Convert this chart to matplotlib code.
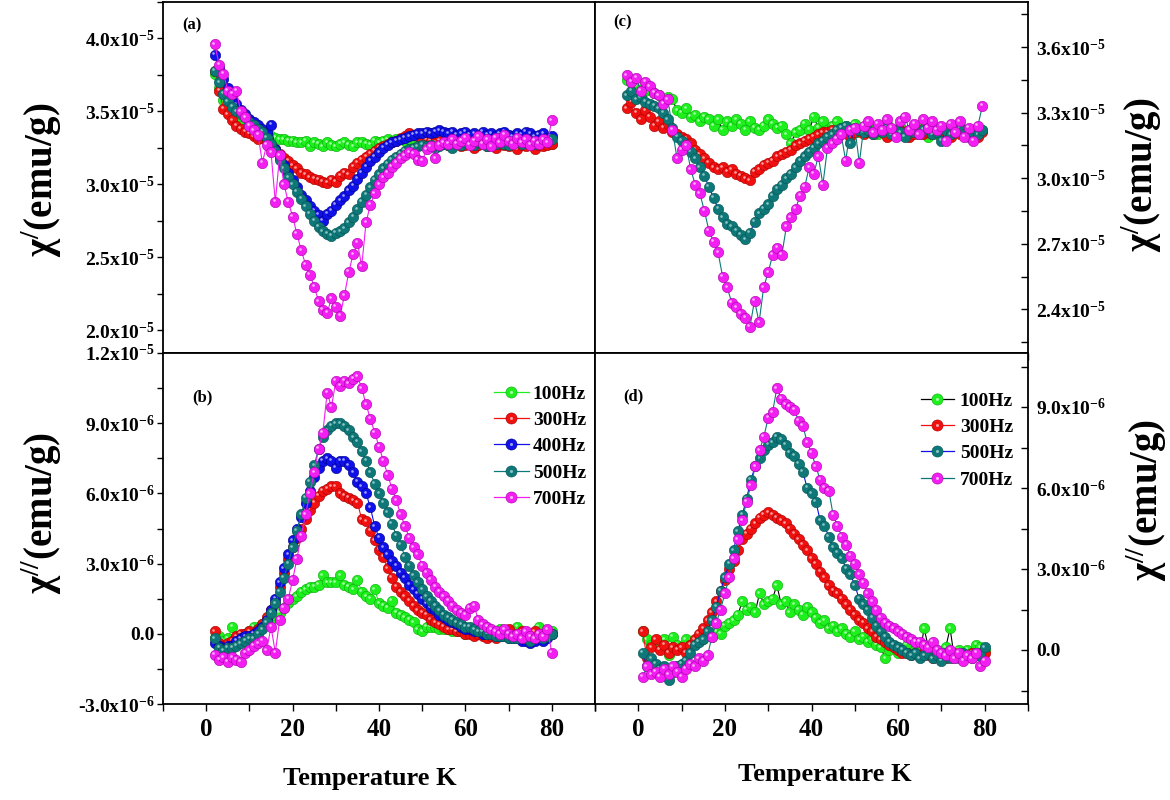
import matplotlib
matplotlib.use('Agg')
import matplotlib.pyplot as plt
import numpy as np
from matplotlib.ticker import MultipleLocator, FuncFormatter
from matplotlib.transforms import offset_copy
from matplotlib.legend_handler import HandlerTuple
from matplotlib.lines import Line2D

plt.rcParams['font.family'] = 'serif'
plt.rcParams['font.serif'] = ['Liberation Serif', 'DejaVu Serif']
plt.rcParams['font.weight'] = 'bold'
plt.rcParams['mathtext.fontset'] = 'custom'
plt.rcParams['mathtext.rm'] = 'Liberation Serif:bold'
plt.rcParams['mathtext.it'] = 'Liberation Serif:italic:bold'
plt.rcParams['mathtext.bf'] = 'Liberation Serif:bold'
plt.rcParams['mathtext.default'] = 'rm'

# temperatures (K)
TEMP_AB = [2, 3, 4, 5, 6, 7, 8, 9, 10, 11,
           12, 13, 14, 15, 16, 17, 18, 19, 20, 21,
           22, 23, 24, 25, 26, 27, 28, 29, 30, 31,
           32, 33, 34, 35, 36, 37, 38, 39, 40, 41,
           42, 43, 44, 45, 46, 47, 48, 49, 50, 51,
           52, 53, 54, 55, 56, 57, 58, 59, 60, 61,
           62, 63, 64, 65, 66, 67, 68, 69, 70, 71,
           72, 73, 74, 75, 76, 77, 78, 79, 80]
TEMP_C = TEMP_AB
TEMP_D = [1, 2, 3, 4, 5, 6, 7, 8, 9, 10,
          11, 12, 13, 14, 15, 16, 17, 18, 19, 20,
          21, 22, 23, 24, 25, 26, 27, 28, 29, 30,
          31, 32, 33, 34, 35, 36, 37, 38, 39, 40,
          41, 42, 43, 44, 45, 46, 47, 48, 49, 50,
          51, 52, 53, 54, 55, 56, 57, 58, 59, 60,
          61, 62, 63, 64, 65, 66, 67, 68, 69, 70,
          71, 72, 73, 74, 75, 76, 77, 78, 79, 80]

# (a) chi' in 1e-5 emu/g
A_100 = [3.76, 3.66, 3.58, 3.52, 3.47, 3.43, 3.40, 3.38, 3.37, 3.36,
         3.35, 3.34, 3.33, 3.33, 3.32, 3.31, 3.31, 3.30, 3.30, 3.29,
         3.29, 3.30, 3.26, 3.29, 3.28, 3.26, 3.29, 3.27, 3.26, 3.28,
         3.29, 3.27, 3.26, 3.29, 3.29, 3.28, 3.27, 3.30, 3.29, 3.30,
         3.31, 3.30, 3.31, 3.31, 3.30, 3.31, 3.31, 3.32, 3.31, 3.30,
         3.31, 3.30, 3.29, 3.31, 3.30, 3.30, 3.29, 3.31, 3.30, 3.29,
         3.30, 3.31, 3.29, 3.30, 3.30, 3.28, 3.30, 3.29, 3.30, 3.31,
         3.29, 3.30, 3.30, 3.29, 3.31, 3.30, 3.29, 3.30, 3.28]
A_300 = [3.78, 3.64, 3.52, 3.48, 3.44, 3.40, 3.38, 3.36, 3.35, 3.33,
         3.31, 3.32, 3.30, 3.27, 3.24, 3.21, 3.18, 3.16, 3.13, 3.11,
         3.08, 3.07, 3.05, 3.04, 3.03, 3.02, 3.01, 3.03, 3.02, 3.06,
         3.08, 3.07, 3.12, 3.15, 3.17, 3.19, 3.21, 3.23, 3.25, 3.26,
         3.28, 3.29, 3.30, 3.32, 3.33, 3.35, 3.34, 3.33, 3.32, 3.31,
         3.30, 3.29, 3.30, 3.28, 3.27, 3.29, 3.28, 3.26, 3.27, 3.28,
         3.25, 3.27, 3.28, 3.26, 3.27, 3.25, 3.28, 3.27, 3.26, 3.28,
         3.24, 3.27, 3.26, 3.28, 3.24, 3.27, 3.26, 3.27, 3.28]
A_400 = [3.89, 3.80, 3.72, 3.66, 3.60, 3.55, 3.51, 3.48, 3.45, 3.43,
         3.41, 3.38, 3.35, 3.41, 3.24, 3.18, 3.13, 3.08, 3.03, 2.98,
         2.93, 2.89, 2.85, 2.82, 2.79, 2.75, 2.80, 2.82, 2.86, 2.89,
         2.92, 2.96, 2.99, 3.04, 3.08, 3.12, 3.16, 3.19, 3.22, 3.25,
         3.27, 3.29, 3.30, 3.31, 3.32, 3.33, 3.34, 3.35, 3.35, 3.36,
         3.35, 3.36, 3.37, 3.36, 3.35, 3.36, 3.34, 3.35, 3.36, 3.34,
         3.35, 3.33, 3.36, 3.34, 3.35, 3.33, 3.35, 3.36, 3.34, 3.33,
         3.35, 3.34, 3.36, 3.35, 3.33, 3.34, 3.35, 3.32, 3.33]
A_500 = [3.78, 3.70, 3.62, 3.57, 3.53, 3.50, 3.48, 3.46, 3.43, 3.41,
         3.38, 3.36, 3.32, 3.28, 3.23, 3.17, 3.11, 3.05, 3.00, 2.95,
         2.90, 2.85, 2.80, 2.75, 2.71, 2.68, 2.66, 2.65, 2.67, 2.68,
         2.70, 2.74, 2.78, 2.83, 2.88, 2.93, 2.98, 3.03, 3.07, 3.11,
         3.14, 3.17, 3.19, 3.21, 3.23, 3.24, 3.25, 3.26, 3.27, 3.26,
         3.27, 3.25, 3.26, 3.28, 3.27, 3.25, 3.28, 3.27, 3.29, 3.28,
         3.27, 3.29, 3.28, 3.26, 3.29, 3.28, 3.30, 3.28, 3.27, 3.29,
         3.30, 3.28, 3.29, 3.30, 3.28, 3.29, 3.30, 3.29, 3.31]
A_700 = [3.96, 3.82, 3.76, 3.64, 3.62, 3.64, 3.50, 3.46, 3.40, 3.37,
         3.34, 3.15, 3.27, 3.22, 2.88, 3.20, 3.00, 2.88, 2.78, 2.66,
         2.55, 2.45, 2.38, 2.30, 2.20, 2.14, 2.12, 2.22, 2.16, 2.10,
         2.24, 2.40, 2.52, 2.60, 2.44, 2.74, 2.86, 2.94, 3.00, 3.05,
         3.08, 3.12, 3.15, 3.18, 3.20, 3.22, 3.21, 3.17, 3.16, 3.24,
         3.26, 3.18, 3.27, 3.29, 3.28, 3.31, 3.28, 3.30, 3.32, 3.27,
         3.30, 3.33, 3.28, 3.31, 3.26, 3.32, 3.29, 3.34, 3.30, 3.28,
         3.32, 3.29, 3.31, 3.27, 3.30, 3.28, 3.31, 3.29, 3.44]

# (b) chi'' in 1e-6 emu/g
B_100 = [-0.2, -0.1, -0.3, -0.2, 0.3, -0.2, -0.1, 0.0, 0.1, 0.3,
         0.2, 0.4, 0.6, 0.6, 0.8, 0.9, 1.1, 1.3, 1.5, 1.6,
         1.8, 1.9, 2.0, 2.0, 2.1, 2.5, 2.2, 2.2, 2.2, 2.5,
         2.1, 2.0, 1.9, 2.3, 1.8, 1.6, 1.5, 1.9, 1.3, 1.2,
         1.1, 1.4, 0.9, 0.8, 0.7, 0.6, 0.5, 0.2, 0.1, 0.3,
         0.3, 0.3, 0.2, 0.2, 0.2, 0.1, 0.1, 0.1, 0.0, 0.1,
         0.0, 0.0, 0.1, 0.0, -0.1, 0.0, 0.2, 0.0, -0.1, 0.0,
         0.3, -0.1, 0.0, -0.2, 0.0, 0.3, -0.1, 0.0, 0.1]
B_300 = [0.1, -0.4, -0.5, -0.4, -0.3, -0.1, 0.0, 0.0, 0.1, 0.0,
         0.2, 0.4, 0.7, 1.0, 1.3, 2.0, 2.6, 3.2, 3.7, 4.1,
         4.5, 4.9, 5.3, 5.6, 5.9, 6.1, 6.2, 6.3, 6.3, 6.0,
         5.9, 5.8, 5.7, 5.6, 4.9, 4.8, 4.4, 4.0, 3.6, 3.3,
         2.8, 2.4, 2.0, 1.8, 1.6, 1.4, 1.2, 1.0, 0.9, 0.8,
         0.6, 0.5, 0.4, 0.3, 0.2, 0.2, 0.1, 0.1, 0.0, 0.0,
         -0.1, 0.0, -0.1, -0.2, -0.1, -0.2, 0.0, -0.1, 0.2, -0.1,
         0.0, 0.1, -0.1, 0.0, 0.1, -0.2, 0.0, 0.1, 0.0]
B_400 = [-0.4, -0.5, -0.6, -0.5, -0.5, -0.3, -0.2, -0.1, -0.1, 0.0,
         0.1, 0.3, 0.6, 1.0, 1.5, 2.2, 2.8, 3.4, 4.0, 4.5,
         5.0, 5.6, 6.1, 6.7, 7.1, 7.4, 7.5, 7.4, 7.1, 7.4,
         7.4, 7.2, 6.9, 6.5, 6.3, 6.0, 5.4, 4.6, 4.1, 3.7,
         3.4, 3.1, 2.9, 2.6, 2.4, 2.1, 1.9, 1.7, 1.5, 1.3,
         1.1, 1.0, 0.8, 0.7, 0.6, 0.5, 0.4, 0.3, 0.2, 0.2,
         0.1, 0.1, 0.0, 0.0, 0.0, -0.1, -0.1, -0.1, -0.2, -0.2,
         -0.2, -0.3, -0.3, -0.4, -0.3, -0.2, -0.3, -0.2, 0.0]
B_500 = [-0.2, -0.6, -0.7, -0.6, -0.6, -0.5, -0.4, -0.3, -0.2, -0.2,
         0.0, 0.2, 0.5, 0.9, 1.3, 1.8, 2.4, 3.0, 3.7, 4.4,
         5.1, 5.8, 6.5, 7.2, 7.9, 8.4, 8.7, 8.9, 9.0, 9.0,
         8.9, 8.7, 8.4, 8.2, 7.8, 7.4, 6.9, 6.4, 6.0, 5.6,
         5.2, 4.7, 4.2, 3.8, 3.3, 2.9, 2.5, 2.2, 1.9, 1.6,
         1.4, 1.2, 1.0, 0.8, 0.7, 0.6, 0.5, 0.4, 0.3, 0.3,
         0.2, 0.1, 0.1, 0.0, 0.0, -0.1, -0.1, -0.1, -0.2, -0.2,
         -0.2, -0.1, -0.2, -0.3, -0.2, -0.1, -0.2, -0.1, 0.0]
B_700 = [-0.9, -1.1, -1.0, -1.2, -1.0, -1.1, -1.2, -0.8, -0.7, -0.5,
         -0.4, -0.3, -0.7, 0.3, -0.8, 0.6, 1.1, 1.5, 2.3, 3.2,
         4.2, 5.1, 6.0, 6.9, 7.9, 8.6, 10.3, 9.7, 10.8, 10.6,
         10.8, 10.7, 10.9, 11.0, 10.5, 9.8, 9.2, 8.6, 8.0, 7.4,
         6.8, 6.2, 5.7, 5.1, 4.6, 4.1, 3.7, 3.4, 2.9, 2.6,
         2.3, 2.0, 1.8, 1.6, 1.4, 1.2, 1.0, 0.9, 0.8, 1.1,
         1.2, 0.6, 0.4, 0.3, 0.2, 0.1, 0.0, 0.2, 0.0, -0.1,
         0.0, -0.2, 0.1, -0.1, -0.2, 0.0, -0.1, 0.2, -0.8]

# (c) chi' in 1e-5 emu/g
C_100 = [3.45, 3.44, 3.42, 3.43, 3.40, 3.41, 3.39, 3.38, 3.36, 3.37,
         3.36, 3.31, 3.30, 3.32, 3.28, 3.29, 3.26, 3.28, 3.27, 3.24,
         3.27, 3.22, 3.26, 3.24, 3.27, 3.25, 3.22, 3.26, 3.23, 3.22,
         3.24, 3.27, 3.25, 3.23, 3.24, 3.20, 3.16, 3.21, 3.22, 3.25,
         3.22, 3.28, 3.23, 3.26, 3.22, 3.24, 3.26, 3.23, 3.24, 3.22,
         3.25, 3.21, 3.23, 3.24, 3.22, 3.20, 3.23, 3.25, 3.21, 3.22,
         3.24, 3.20, 3.22, 3.24, 3.21, 3.23, 3.19, 3.24, 3.20, 3.22,
         3.19, 3.23, 3.21, 3.24, 3.20, 3.22, 3.19, 3.21, 3.22]
C_300 = [3.32, 3.35, 3.30, 3.27, 3.31, 3.28, 3.24, 3.26, 3.23, 3.25,
         3.21, 3.20, 3.19, 3.18, 3.16, 3.13, 3.11, 3.09, 3.07, 3.05,
         3.04, 3.05, 3.03, 3.04, 3.02, 3.01, 3.00, 2.99, 3.03, 3.04,
         3.06, 3.07, 3.08, 3.10, 3.11, 3.12, 3.13, 3.15, 3.16, 3.17,
         3.18, 3.19, 3.20, 3.21, 3.21, 3.22, 3.21, 3.20, 3.21, 3.19,
         3.21, 3.22, 3.20, 3.21, 3.20, 3.22, 3.21, 3.19, 3.21, 3.20,
         3.22, 3.21, 3.19, 3.20, 3.22, 3.20, 3.21, 3.20, 3.22, 3.21,
         3.20, 3.19, 3.21, 3.20, 3.22, 3.20, 3.21, 3.19, 3.21]
C_500 = [3.38, 3.40, 3.36, 3.37, 3.35, 3.34, 3.33, 3.32, 3.30, 3.27,
         3.23, 3.19, 3.17, 3.15, 3.12, 3.09, 3.05, 3.01, 2.96, 2.91,
         2.86, 2.82, 2.79, 2.78, 2.76, 2.74, 2.72, 2.75, 2.80, 2.84,
         2.86, 2.88, 2.92, 2.95, 2.97, 3.00, 3.02, 3.05, 3.08, 3.10,
         3.12, 3.14, 3.16, 3.17, 3.19, 3.20, 3.22, 3.23, 3.24, 3.16,
         3.23, 3.22, 3.21, 3.22, 3.20, 3.22, 3.21, 3.23, 3.20, 3.22,
         3.21, 3.19, 3.22, 3.21, 3.20, 3.22, 3.23, 3.20, 3.21, 3.17,
         3.22, 3.20, 3.21, 3.23, 3.20, 3.19, 3.21, 3.20, 3.22]
C_700 = [3.47, 3.44, 3.46, 3.40, 3.44, 3.42, 3.39, 3.38, 3.34, 3.36,
         3.22, 3.09, 3.13, 3.15, 3.04, 2.97, 2.93, 2.85, 2.76, 2.71,
         2.66, 2.55, 2.50, 2.43, 2.41, 2.38, 2.36, 2.32, 2.44, 2.34,
         2.50, 2.57, 2.65, 2.68, 2.65, 2.78, 2.82, 2.86, 2.92, 2.96,
         3.05, 3.02, 3.10, 2.97, 3.14, 3.16, 3.18, 3.20, 3.08, 3.22,
         3.23, 3.07, 3.24, 3.26, 3.21, 3.25, 3.22, 3.27, 3.23, 3.19,
         3.26, 3.28, 3.22, 3.25, 3.20, 3.27, 3.23, 3.26, 3.22, 3.24,
         3.17, 3.25, 3.21, 3.26, 3.19, 3.23, 3.17, 3.24, 3.33]

# (d) chi'' in 1e-6 emu/g
D_100 = [0.7, 0.4, 0.2, 0.3, 0.1, 0.4, -0.2, 0.5, 0.2, 0.1,
         0.4, 0.2, 0.3, 0.5, 0.4, 0.6, 0.5, 0.7, 0.6, 0.9,
         1.0, 1.1, 1.3, 1.8, 1.5, 1.6, 1.4, 2.1, 1.7, 1.8,
         1.9, 2.4, 1.7, 1.8, 1.4, 1.7, 1.5, 1.3, 1.6, 1.4,
         1.2, 1.0, 1.1, 0.8, 0.9, 0.7, 0.8, 0.6, 0.5, 0.7,
         0.4, 0.5, 0.3, 0.4, 0.2, 0.1, -0.3, 0.0, 0.1, -0.1,
         0.0, 0.2, -0.1, 0.0, -0.2, 0.8, 0.1, -0.1, 0.0, -0.2,
         0.1, 0.8, -0.3, 0.0, -0.2, 0.0, -0.1, 0.2, 0.1, 0.0]
D_300 = [0.7, -0.3, 0.1, 0.4, 0.0, 0.2, -0.1, 0.1, 0.0, 0.1,
         -0.1, 0.2, 0.4, 0.6, 0.8, 1.1, 1.4, 1.8, 2.2, 2.6,
         3.0, 3.3, 3.7, 4.1, 4.3, 4.5, 4.7, 4.9, 5.0, 5.1,
         5.0, 4.9, 4.8, 4.7, 4.5, 4.3, 4.1, 3.9, 3.7, 3.4,
         3.2, 2.9, 2.7, 2.4, 2.2, 2.1, 1.9, 1.7, 1.5, 1.3,
         1.1, 1.0, 0.8, 0.7, 0.5, 0.4, 0.3, 0.2, 0.1, 0.0,
         -0.1, -0.1, -0.2, -0.1, -0.2, -0.1, -0.2, -0.3, -0.2, -0.1,
         -0.3, -0.2, -0.1, -0.2, -0.3, -0.2, -0.1, -0.2, -0.1, -0.1]
D_500 = [-0.1, -0.6, -0.3, -0.5, -0.7, -0.6, -1.1, -0.8, -0.6, -0.5,
         -0.4, -0.1, 0.2, 0.3, 0.4, 0.7, 1.1, 1.6, 2.2, 2.7,
         3.2, 3.7, 4.4, 5.0, 5.6, 6.3, 6.8, 7.1, 7.4, 7.6,
         7.7, 7.9, 7.8, 7.6, 7.3, 7.2, 6.9, 6.6, 6.0, 5.8,
         5.5, 4.8, 4.6, 4.2, 3.8, 3.6, 3.4, 3.0, 2.8, 2.4,
         1.9, 1.7, 1.5, 1.2, 0.9, 0.7, 0.5, 0.3, 0.2, 0.1,
         0.0, -0.1, -0.2, -0.1, -0.3, -0.2, -0.1, -0.3, -0.2, -0.4,
         -0.1, -0.3, -0.2, -0.3, -0.1, -0.2, -0.3, -0.1, -0.2, 0.1]
D_700 = [-1.0, -0.6, -0.9, -0.8, -1.0, -0.7, -0.9, -0.6, -0.8, -1.0,
         -0.7, -0.5, -0.6, -0.3, -0.4, -0.2, 0.5, 1.0, 1.5, 2.1,
         2.7, 3.4, 4.1, 4.8, 5.5, 6.1, 6.8, 7.4, 7.9, 8.6,
         8.8, 9.7, 9.3, 9.1, 9.0, 8.9, 8.5, 8.3, 7.7, 7.3,
         6.8, 6.3, 6.0, 5.9, 5.0, 4.6, 4.2, 3.9, 3.5, 3.2,
         2.8, 2.5, 2.1, 1.8, 1.5, 1.2, 1.0, 0.9, 0.8, 0.7,
         0.6, 0.5, 0.4, 0.3, 0.3, 0.2, 0.1, 0.3, 0.0, -0.1,
         -0.2, 0.0, -0.3, -0.1, -0.4, -0.2, -0.3, -0.1, -0.6, -0.4]

GREEN, RED, BLUE, TEAL, MAGENTA = '#1ef01e', '#f01010', '#1010e8', '#0e7878', '#f21ef2'
EDGE = {GREEN: '#0aa80a', RED: '#a80000', BLUE: '#000088', TEAL: '#045252', MAGENTA: '#a800a8'}
SHINE = {GREEN: '#a8ffa8', RED: '#ffa0a0', BLUE: '#a0a0ff', TEAL: '#8cc4c4', MAGENTA: '#ffb4ff'}


def sci_label(v, pos):
    if abs(v) < 1e-12:
        return '0.0'
    exp = int(np.floor(np.log10(abs(v)) + 1e-9))
    return f'{v / 10 ** exp:.1f}x10$^{{{exp}}}$'


def balls(ax, t, y, face, line):
    ax.plot(t, y, '-', color=line, lw=0.8, marker='o', ms=7.5, mfc=face,
            mec=EDGE[face], mew=0.4)
    shine = offset_copy(ax.transData, fig=ax.figure, x=-1.5, y=1.6, units='dots')
    ax.plot(t, y, ls='none', marker='o', ms=1.9, mfc=SHINE[face], mec='none',
            transform=shine)


def ball_handle(face, line):
    base = Line2D([], [], color=line, lw=0.9, marker='o', ms=8, mfc=face,
                  mec=EDGE[face], mew=0.4)
    spot = Line2D([], [], ls='none', marker='o', ms=2.2, mfc=SHINE[face], mec='none')
    return (base, spot)


fig = plt.figure(figsize=(11.7, 8), dpi=100)
W, H = 1170, 800
ax_a = fig.add_axes([163 / W, 447 / H, 432 / W, 351 / H])
ax_b = fig.add_axes([163 / W, 96 / H, 432 / W, 351 / H])
ax_c = fig.add_axes([595 / W, 447 / H, 433 / W, 351 / H])
ax_d = fig.add_axes([595 / W, 96 / H, 433 / W, 351 / H])

e5 = 1e-5
e6 = 1e-6
ta = np.array(TEMP_AB)
for vals, face in [(A_100, GREEN), (A_300, RED), (A_400, BLUE), (A_500, TEAL), (A_700, MAGENTA)]:
    balls(ax_a, ta, np.array(vals) * e5, face, face)
for vals, face in [(B_100, GREEN), (B_300, RED), (B_400, BLUE), (B_500, TEAL), (B_700, MAGENTA)]:
    balls(ax_b, ta, np.array(vals) * e6, face, face)

tc = np.array(TEMP_C)
td = np.array(TEMP_D)
right_series = [(GREEN, 'black'), (RED, RED), (TEAL, BLUE), (MAGENTA, TEAL)]
for vals, (face, line) in zip([C_100, C_300, C_500, C_700], right_series):
    balls(ax_c, tc, np.array(vals) * e5, face, line)
for vals, (face, line) in zip([D_100, D_300, D_500, D_700], right_series):
    balls(ax_d, td, np.array(vals) * e6, face, line)

ax_a.set_xlim(-10, 90)
ax_b.set_xlim(-10, 90)
ax_c.set_xlim(-5, 90)
ax_d.set_xlim(-10, 90)
ax_a.set_ylim(1.845e-5, 4.25e-5)
ax_b.set_ylim(-3e-6, 1.2e-5)
ax_c.set_ylim(2.2e-5, 3.806e-5)
ax_d.set_ylim(-2e-6, 1.1e-5)

ax_a.yaxis.set_major_locator(MultipleLocator(0.5e-5))
ax_a.yaxis.set_minor_locator(MultipleLocator(0.25e-5))
ax_b.yaxis.set_major_locator(MultipleLocator(3e-6))
ax_b.yaxis.set_minor_locator(MultipleLocator(1.5e-6))
ax_c.yaxis.set_major_locator(MultipleLocator(0.3e-5))
ax_c.yaxis.set_minor_locator(MultipleLocator(0.15e-5))
ax_d.yaxis.set_major_locator(MultipleLocator(3e-6))
ax_d.yaxis.set_minor_locator(MultipleLocator(1.5e-6))

for ax in (ax_a, ax_b, ax_c, ax_d):
    ax.yaxis.set_major_formatter(FuncFormatter(sci_label))
    ax.xaxis.set_major_locator(MultipleLocator(20))
    ax.xaxis.set_minor_locator(MultipleLocator(10))
    ax.tick_params(axis='x', which='both', direction='out', length=5, width=1,
                   top=False, bottom=True, labelsize=18, pad=5)
    for sp in ax.spines.values():
        sp.set_linewidth(1.3)

for ax in (ax_a, ax_c):
    ax.tick_params(axis='x', labelbottom=False)

for ax in (ax_a, ax_b):
    ax.tick_params(axis='y', which='both', direction='out', length=4, width=1,
                   left=True, right=False, labelsize=14, pad=2)

for ax in (ax_c, ax_d):
    ax.yaxis.tick_right()
    ax.tick_params(axis='y', which='both', direction='in', length=5, width=1,
                   left=False, right=True, labelleft=False, labelright=True,
                   labelsize=14, pad=6)

ax_a.text(0.044, 0.955, '(a)', transform=ax_a.transAxes, fontsize=12, ha='left', va='top')
ax_b.text(0.067, 0.895, '(b)', transform=ax_b.transAxes, fontsize=12, ha='left', va='top')
ax_c.text(0.042, 0.966, '(c)', transform=ax_c.transAxes, fontsize=12, ha='left', va='top')
ax_d.text(0.065, 0.90, '(d)', transform=ax_d.transAxes, fontsize=12, ha='left', va='top')

labels_b = ['100Hz', '300Hz', '400Hz', '500Hz', '700Hz']
handles_b = [ball_handle(c, c) for c in (GREEN, RED, BLUE, TEAL, MAGENTA)]
ax_b.legend(handles_b, labels_b, handler_map={tuple: HandlerTuple(ndivide=1, pad=0)},
            loc='upper right', bbox_to_anchor=(0.979, 0.909), frameon=False,
            fontsize=14, handlelength=1.8, handletextpad=0.2, labelspacing=0.45,
            borderpad=0, borderaxespad=0)

labels_d = ['100Hz', '300Hz', '500Hz', '700Hz']
handles_d = [ball_handle(f, l) for f, l in right_series]
ax_d.legend(handles_d, labels_d, handler_map={tuple: HandlerTuple(ndivide=1, pad=0)},
            loc='upper right', bbox_to_anchor=(0.965, 0.889), frameon=False,
            fontsize=14, handlelength=1.7, handletextpad=0.3, labelspacing=0.45,
            borderpad=0, borderaxespad=0)

fig.text(42 / W, 1 - 180 / H, 'χ$^{/}$(emu/g)', rotation=90, ha='center', va='center', fontsize=28)
fig.text(42 / W, 1 - 513 / H, 'χ$^{//}$(emu/g)', rotation=90, ha='center', va='center', fontsize=28)
fig.text(1142 / W, 1 - 175 / H, 'χ$^{/}$(emu/g)', rotation=90, ha='center', va='center', fontsize=28)
fig.text(1147 / W, 1 - 500 / H, 'χ$^{//}$(emu/g)', rotation=90, ha='center', va='center', fontsize=28)

fig.text(370 / W, 1 - 778 / H, 'Temperature K', ha='center', va='center', fontsize=19)
fig.text(825 / W, 1 - 775 / H, 'Temperature K', ha='center', va='center', fontsize=19)

fig.savefig('out.png', dpi=100)
